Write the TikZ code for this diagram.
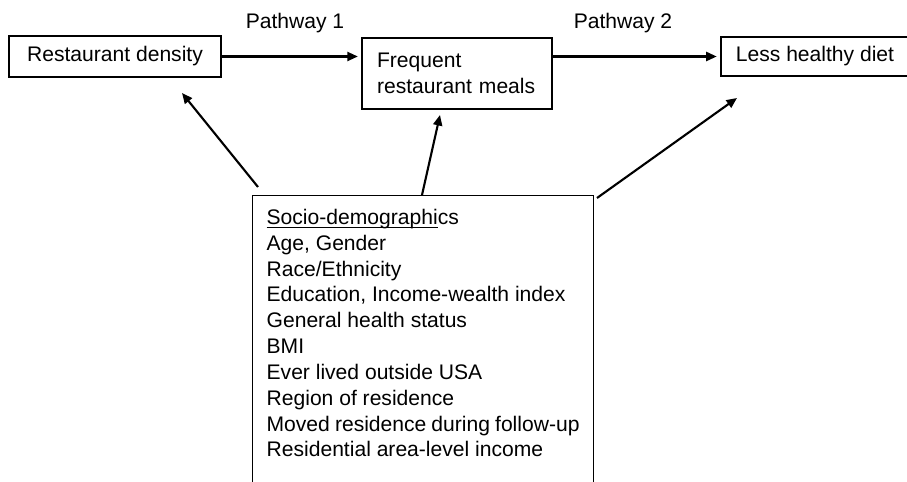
\documentclass[tikz,border=0pt]{standalone}
\usepackage{fontspec}
\setmainfont{Liberation Sans}
\usetikzlibrary{positioning,arrows.meta}
\tikzset{
  txt/.style={font=\fontsize{12}{14.7}\selectfont},
  box/.style={txt,draw,line width=0.75pt,inner xsep=0.3cm,inner ysep=0pt},
  arr/.style={line width=1.2pt,-{Triangle[length=0.21cm,width=0.18cm]}}
}
\begin{document}
\begin{tikzpicture}[x=0.02cm,y=-0.02cm]
	\clip (0,0) rectangle (907,482);
	\node [box,minimum width=4.24cm,minimum height=0.82cm] (dens) at (115,56.5) {Restaurant density};
	\node [box,minimum width=3.8cm,minimum height=1.42cm,text width=3.2cm,align=left] (freq) at (457,73.5) {Frequent\\restaurant meals};
	\node [box,minimum width=3.64cm,minimum height=0.78cm] (diet) at (815,56.5) {Less healthy diet};
	\node [txt] (path1) at (295,23) {Pathway 1};        \node [txt] (path2) at (623,23) {Pathway 2};
	\node [box,anchor=north west,inner xsep=0.28cm,inner ysep=0.27cm] (demo) at (252,195) {\parbox[t][6.4cm][t]{6.26cm}{%
		\vphantom{Sh}\underline{\smash{Socio-demographi}}cs\\
		Age, Gender\\
		Race/Ethnicity\\
		Education, Income-wealth index\\
		General health status\\
		BMI\\
		Ever lived outside USA\\
		Region of residence\\
		Moved residence during follow-up\\
		Residential area-level income}};
	% free ends of the arrows out of the lower box
	\coordinate (t1) at (258,187);  \coordinate (h1) at (182,93);
	\coordinate (t2) at (422,195);  \coordinate (h2) at (440,115);
	\coordinate (t3) at (597,198);  \coordinate (h3) at (737,98);
	\draw [arr,shorten >=0.07cm] (dens) -- (dens -| freq.west);
	\draw [arr,shorten >=0.07cm] (freq.east |- diet) -- (diet);
	\draw [arr] (t1) -- (h1);
	\draw [arr] (t2) -- (h2);
	\draw [arr] (t3) -- (h3);
\end{tikzpicture}
\end{document}
